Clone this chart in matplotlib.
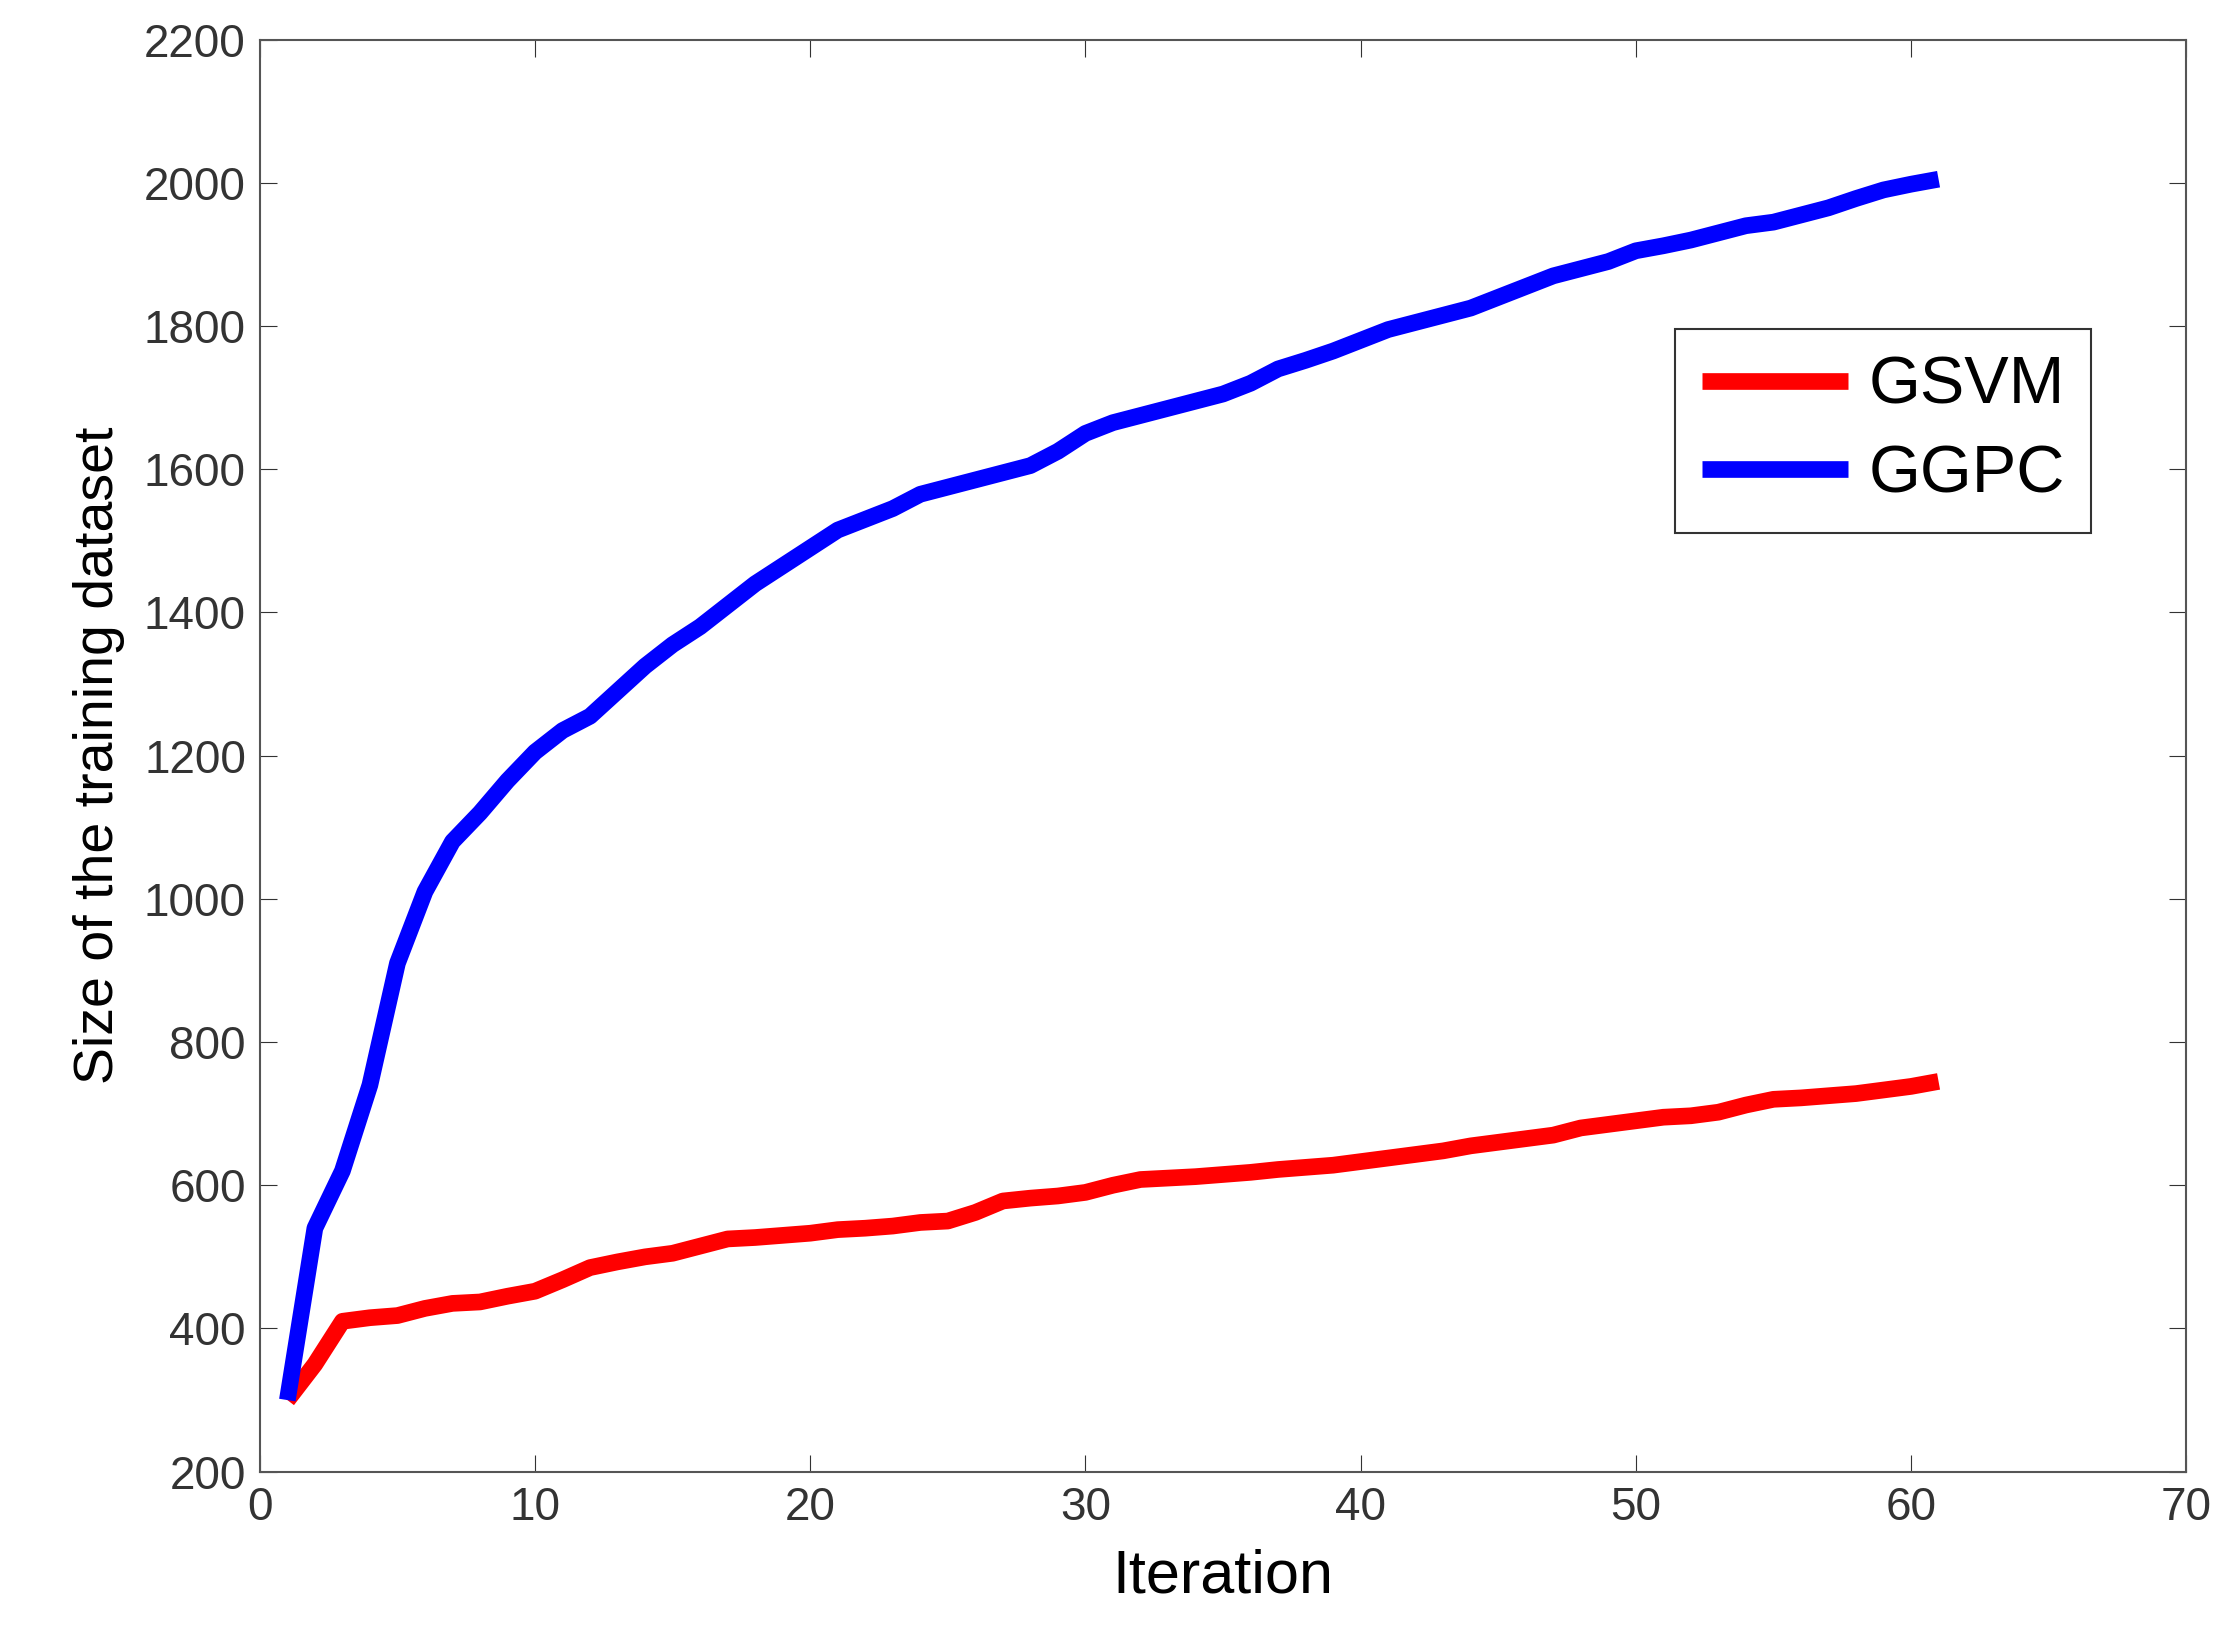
import matplotlib
matplotlib.use("Agg")
import matplotlib.pyplot as plt

iterations = list(range(1, 62))
ggpc = [300,540,620,740,910,1010,1080,1120,1165,1205,1235,1255,1290,1325,1355,1380,1410,1440,1465,1490,
        1515,1530,1545,1565,1575,1585,1595,1605,1625,1650,1665,1675,1685,1695,1705,1720,1740,1752,1765,1780,
        1795,1805,1815,1825,1840,1855,1870,1880,1890,1905,1912,1920,1930,1940,1945,1955,1965,1978,1990,1998,2005]
gsvm = [300,350,410,415,418,428,435,437,445,452,468,485,493,500,505,515,525,527,530,533,
        538,540,543,548,550,562,578,582,585,590,600,608,610,612,615,618,622,625,628,633,
        638,643,648,655,660,665,670,680,685,690,695,697,702,712,720,722,725,728,733,738,745]

plt.rcParams['font.family'] = ['Liberation Sans', 'DejaVu Sans']
fig = plt.figure(figsize=(22.4, 16.48), dpi=100)
ax = fig.add_axes([0.116, 0.107, 0.86, 0.869])
ax.plot(iterations, gsvm, color='#ff0000', lw=12, label='GSVM', solid_capstyle='butt')
ax.plot(iterations, ggpc, color='#0000ff', lw=12, label='GGPC', solid_capstyle='butt')
ax.set_xlim(0, 70)
ax.set_ylim(200, 2200)
ax.set_xticks(range(0, 71, 10))
ax.set_yticks(range(200, 2201, 200))
ax.tick_params(direction='in', length=12, labelsize=33, colors='#333333', top=True, right=True,
               labeltop=False, labelright=False, pad=10)
for s in ax.spines.values():
    s.set_color('#555555'); s.set_linewidth(1.5)
ax.set_xlabel('Iteration', fontsize=44, labelpad=14)
ax.set_ylabel('Size of the training dataset', fontsize=40, labelpad=14)
leg = ax.legend(loc='upper right', bbox_to_anchor=(0.968, 0.821), fontsize=48, fancybox=False,
                framealpha=1, edgecolor='#333333', handlelength=2.2, handletextpad=0.3,
                borderpad=0.4, labelspacing=0.4)
leg.get_frame().set_linewidth(1.5)
fig.savefig('out.png')
